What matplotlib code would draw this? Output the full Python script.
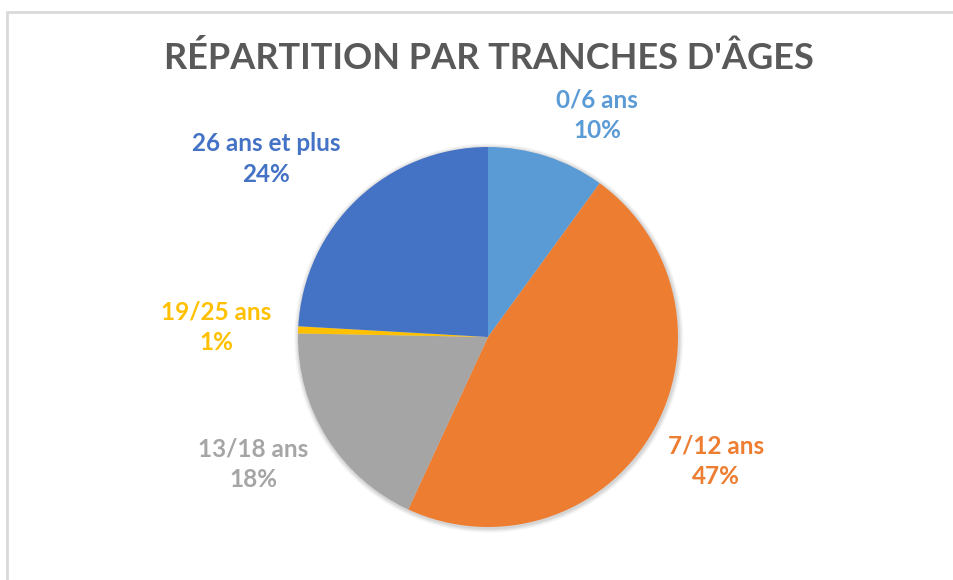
import matplotlib
matplotlib.use('Agg')
import matplotlib.pyplot as plt
from matplotlib.patches import Rectangle, Circle

# === Data ===
labels = ['0/6 ans', '7/12 ans', '13/18 ans', '19/25 ans', '26 ans et plus']
shares = [10.0, 46.9, 18.4, 0.6, 24.1]
colors = ['#5B9BD5', '#ED7D31', '#A5A5A5', '#FFC000', '#4472C4']

# label anchor points, in pie units (radius = 1)
label_xy = [(0.574, 1.168), (1.20, -0.653), (-1.237, -0.668),
            (-1.432, 0.053), (-1.168, 0.937)]

plt.rcParams['font.family'] = ['Lato', 'DejaVu Sans']

W, H = 954, 580
fig = plt.figure(figsize=(W / 100, H / 100), dpi=100)

# light grey chart border (cut off on the right and bottom)
fig.add_artist(Rectangle((7.5 / W, -0.05), 1.2, 1.05 - 11.5 / H,
                         transform=fig.transFigure, fill=False,
                         edgecolor='#d9d9d9', lw=2))

# pie: centre at (488, 337) px, radius 190 px
R = 190
L = 1.5
cx, cy = 488, 337
ax = fig.add_axes([(cx - L * R) / W, (H - cy - L * R) / H,
                   2 * L * R / W, 2 * L * R / H])
ax.set_xlim(-L, L)
ax.set_ylim(-L, L)
ax.set_aspect('equal')
ax.axis('off')

# soft shadow
for i, a in enumerate([0.05, 0.05, 0.04, 0.03]):
    ax.add_patch(Circle((0.004, -0.006), 1.0 + 0.006 * (i + 1),
                        color='black', alpha=a, lw=0, zorder=0))

wedges, _ = ax.pie(shares, colors=colors, startangle=90, counterclock=False,
                   radius=1.0, wedgeprops=dict(linewidth=0))
for w in wedges:
    w.set_zorder(1)
ax.set_xlim(-L, L)
ax.set_ylim(-L, L)

total = sum(shares)
for lab, val, col, (x, y) in zip(labels, shares, colors, label_xy):
    ax.text(x, y, f'{lab}\n{round(val / total * 100):.0f}%', color=col,
            ha='center', va='center', fontsize=17.5, fontweight='bold',
            linespacing=1.4)

fig.text(489 / W, 1 - 58 / H, "RÉPARTITION PAR TRANCHES D'ÂGES",
         ha='center', va='center', fontsize=26, fontweight='bold',
         color='#595959')

fig.savefig('out.png', dpi=100)
